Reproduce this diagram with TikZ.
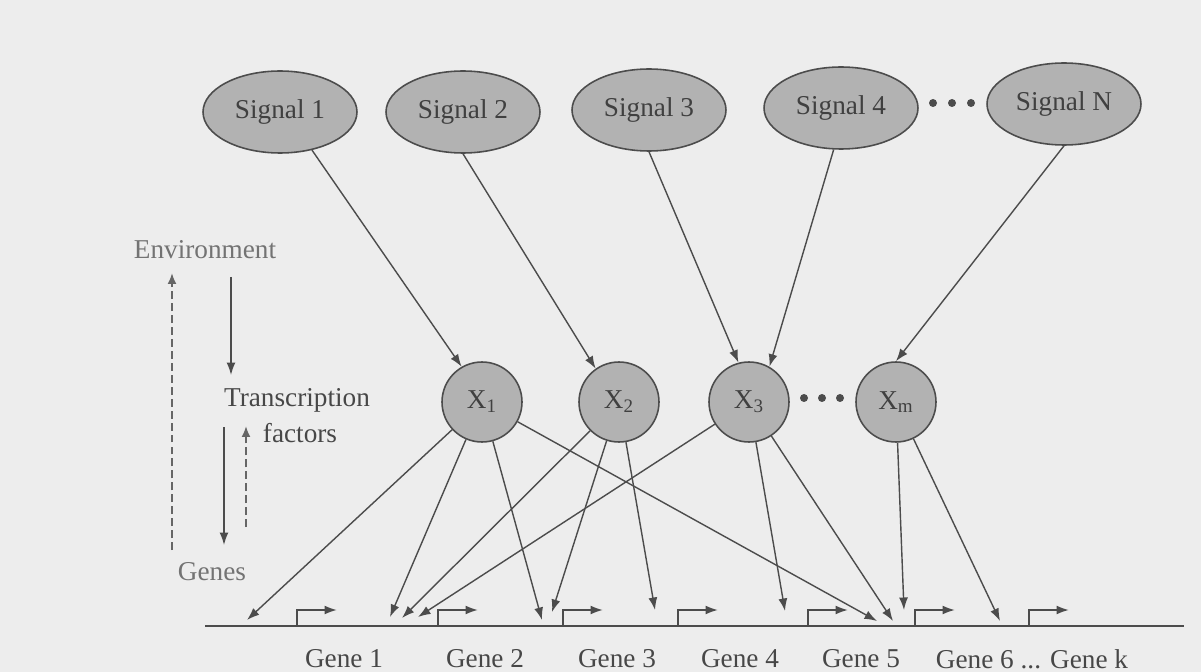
\documentclass[tikz,border=0pt]{standalone}
\usepackage{fontspec}
\setmainfont{Liberation Serif}
\usetikzlibrary{arrows.meta,positioning,shapes.geometric}

\begin{document}
\begin{tikzpicture}[
  x=0.02cm, y=-0.02cm,
  font=\fontsize{15.5}{18}\selectfont,
  sig/.style={ellipse,draw=black!70,fill=black!30,line width=0.9pt,
    minimum width=3.08cm,minimum height=1.64cm,inner sep=0pt,text=black!75},
  tf/.style={circle,draw=black!70,fill=black!30,line width=0.9pt,
    minimum size=1.6cm,inner sep=0pt,text=black!75},
  lbl/.style={text=black!72,inner sep=1pt},
  link/.style={draw=black!70,line width=0.8pt,-{Latex[length=2.5mm,width=1.8mm]}},
  back/.style={draw=black!60,line width=1.1pt,dash pattern=on 4.5pt off 2.3pt,
    -{Latex[length=2.2mm,width=1.8mm]}},
  dotrow/.style={fill=black!70}
]
  \useasboundingbox (0,0) rectangle (1201,672);
  \fill[black!7] (0,0) rectangle (1201,672);

  % signals
  \node[sig] (s1) at (280,112) {Signal 1};
  \node[sig] (s2) at (463,112) {Signal 2};
  \node[sig] (s3) at (649,110) {Signal 3};
  \node[sig] (s4) at (841,108) {Signal 4};
  \node[sig] (sn) at (1064,104) {Signal N};
  \foreach \d in {-19,0,19} \fill[dotrow] (952+\d,103) circle (4);

  % transcription factors
  \node[tf] (x1) at (482,402) {X\textsubscript{1}};
  \node[tf] (x2) at (619,402) {X\textsubscript{2}};
  \node[tf] (x3) at (749,402) {X\textsubscript{3}};
  \node[tf] (xm) at (896,402) {X\textsubscript{m}};
  \foreach \d in {-18,0,18} \fill[dotrow] (822+\d,398) circle (4);

  \draw[link] (s1.-50) -- (x1.120);
  \draw[link] (s2.south) -- (x2.125);
  \draw[link] (s3.south) -- (x3.105);
  \draw[link] (s4.-100) -- (x3.60);
  \draw[link] (sn.south) -- (xm.north);

  % levels on the left
  \node[lbl,text=black!55] (env) at (205,250) {Environment};
  \node[lbl] (trans) at (297,400) {Transcription};
  \node[lbl] (fact) at (300,433) {factors};
  \node[lbl,text=black!55] (genes) at (212,572) {Genes};
  \coordinate (e1) at (231,277);
  \coordinate (e2) at (231,375);
  \coordinate (f1) at (224,427);
  \coordinate (f2) at (224,545);
  \coordinate (b1) at (172,550);
  \coordinate (b2) at (172,273);
  \coordinate (c1) at (246,527);
  \coordinate (c2) at (246,426);
  \draw[link] (e1) -- (e2);
  \draw[link] (f1) -- (f2);
  \draw[back] (b1) -- (b2);
  \draw[back] (c1) -- (c2);

  % genes
  \coordinate (dnal) at (205,626);
  \coordinate (dnar) at (1184,626);
  \draw[black!70,line width=1pt] (dnal) -- (dnar);
  \foreach \p in {297,438,563,678,808,915,1029}
    \draw[link,line width=1.1pt] (\p,626) -- (\p,610) -- (\p+40,610);
  \node[lbl] (g1) at (344,659) {Gene 1};
  \node[lbl] (g2) at (485,659) {Gene 2};
  \node[lbl] (g3) at (617,659) {Gene 3};
  \node[lbl] (g4) at (740,659) {Gene 4};
  \node[lbl] (g5) at (861,659) {Gene 5};
  \node[lbl] (gk) at (1032,659) {Gene 6 ... Gene k};

  % binding sites
  \coordinate (r1) at (247,620);
  \coordinate (r2a) at (390,617);
  \coordinate (r2b) at (402,618);
  \coordinate (r2c) at (418,617);
  \coordinate (r3a) at (542,620);
  \coordinate (r3b) at (552,612);
  \coordinate (r4) at (655,610);
  \coordinate (r5) at (785,611);
  \coordinate (r6a) at (877,621);
  \coordinate (r6b) at (893,621);
  \coordinate (r6c) at (904,610);
  \coordinate (rk) at (1000,621);

  \foreach \t in {r1,r2a,r3a,r6a} \draw[link] (x1) -- (\t);
  \foreach \t in {r2b,r3b,r4} \draw[link] (x2) -- (\t);
  \foreach \t in {r2c,r5,r6b} \draw[link] (x3) -- (\t);
  \foreach \t in {r6c,rk} \draw[link] (xm) -- (\t);
\end{tikzpicture}
\end{document}
